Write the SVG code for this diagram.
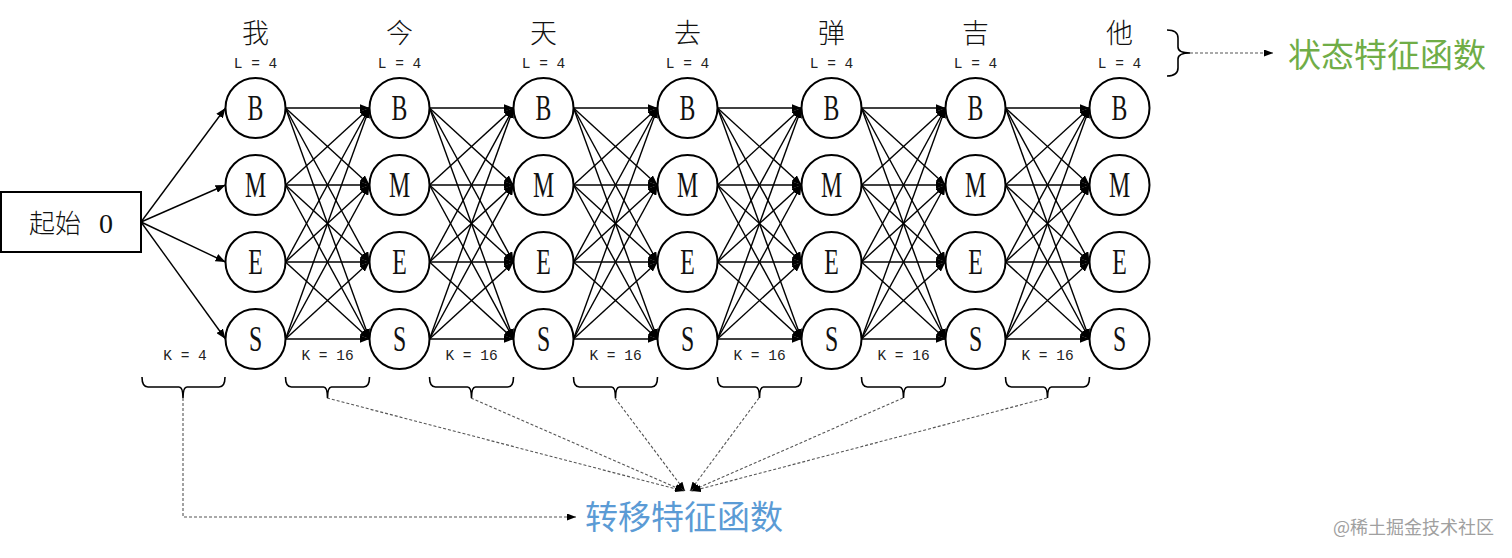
<svg xmlns="http://www.w3.org/2000/svg" xmlns:xlink="http://www.w3.org/1999/xlink" width="1512" height="558" viewBox="0 0 1512 558">
<defs>
<style>
.node{fill:#fff;stroke:#000;stroke-width:2}
.lt{font-family:"Liberation Serif",serif;font-size:35px;fill:#111;text-anchor:middle}
.ch{font-family:"Noto Sans CJK SC",sans-serif;font-size:27px;font-weight:300;fill:#111;text-anchor:middle}
.sm{font-family:"Liberation Mono",monospace;font-size:14.5px;fill:#222;text-anchor:middle}
.e{stroke:#000;stroke-width:1.4;fill:none;marker-end:url(#ah)}
.d{stroke:#555;stroke-width:1.1;fill:none;stroke-dasharray:3 2;marker-end:url(#dh)}
.br{stroke:#000;stroke-width:1.6;fill:none}
.big{font-family:"Noto Sans CJK SC",sans-serif;font-size:33px;font-weight:400}
</style>
<marker id="ah" viewBox="0 0 10 8" refX="10" refY="4" markerWidth="10" markerHeight="8" markerUnits="userSpaceOnUse" orient="auto"><path d="M0,0 L10,4 L0,8 z" fill="#000"/></marker>
<marker id="dh" viewBox="0 0 9 7" refX="9" refY="3.5" markerWidth="9" markerHeight="7" markerUnits="userSpaceOnUse" orient="auto"><path d="M0,0 L9,3.5 L0,7 z" fill="#000"/></marker>
<g id="mesh">
<line x1="0" y1="108" x2="84" y2="108"/><line x1="0" y1="108" x2="84" y2="185"/><line x1="0" y1="108" x2="84" y2="262"/><line x1="0" y1="108" x2="84" y2="339"/>
<line x1="0" y1="185" x2="84" y2="108"/><line x1="0" y1="185" x2="84" y2="185"/><line x1="0" y1="185" x2="84" y2="262"/><line x1="0" y1="185" x2="84" y2="339"/>
<line x1="0" y1="262" x2="84" y2="108"/><line x1="0" y1="262" x2="84" y2="185"/><line x1="0" y1="262" x2="84" y2="262"/><line x1="0" y1="262" x2="84" y2="339"/>
<line x1="0" y1="339" x2="84" y2="108"/><line x1="0" y1="339" x2="84" y2="185"/><line x1="0" y1="339" x2="84" y2="262"/><line x1="0" y1="339" x2="84" y2="339"/>
</g>
</defs>
<rect width="1512" height="558" fill="#fff"/>

<g id="connectors">
<g class="e">
<line x1="141" y1="222" x2="225.5" y2="108"/>
<line x1="141" y1="222" x2="225.5" y2="185"/>
<line x1="141" y1="222" x2="225.5" y2="262"/>
<line x1="141" y1="222" x2="225.5" y2="339"/>
</g>
<g class="e">
<use xlink:href="#mesh" href="#mesh" x="285.5"/>
<use xlink:href="#mesh" href="#mesh" x="429.5"/>
<use xlink:href="#mesh" href="#mesh" x="573.5"/>
<use xlink:href="#mesh" href="#mesh" x="717.5"/>
<use xlink:href="#mesh" href="#mesh" x="861.5"/>
<use xlink:href="#mesh" href="#mesh" x="1005.5"/>
</g>
<g id="dashed">
<path class="d" d="M1190,53 H1273"/>
<path class="d" d="M183,398 V517 H576"/>
<path class="d" d="M327,398 L684,491"/>
<path class="d" d="M471,398 L684,491"/>
<path class="d" d="M615,398 L685,491"/>
<path class="d" d="M759,398 L690,491"/>
<path class="d" d="M903,398 L691,491"/>
<path class="d" d="M1047,398 L692,491"/>
</g>
</g>

<g id="start">
<rect x="1" y="192" width="140" height="60" fill="#fff" stroke="#000" stroke-width="2"/>
<text y="233" font-size="26" fill="#111"><tspan x="29" font-family="Noto Sans CJK SC, sans-serif" font-weight="300">起始</tspan><tspan x="99" font-family="Liberation Serif, serif" font-size="28">0</tspan></text>
</g>

<g id="words">
<text class="ch" x="255.5" y="43">我</text>
<text class="ch" x="399.5" y="43">今</text>
<text class="ch" x="543.5" y="43">天</text>
<text class="ch" x="687.5" y="43">去</text>
<text class="ch" x="831.5" y="43">弹</text>
<text class="ch" x="975.5" y="43">吉</text>
<text class="ch" x="1119.5" y="43">他</text>
<text class="sm" x="255.5" y="68">L = 4</text>
<text class="sm" x="399.5" y="68">L = 4</text>
<text class="sm" x="543.5" y="68">L = 4</text>
<text class="sm" x="687.5" y="68">L = 4</text>
<text class="sm" x="831.5" y="68">L = 4</text>
<text class="sm" x="975.5" y="68">L = 4</text>
<text class="sm" x="1119.5" y="68">L = 4</text>
</g>

<g id="col1">
<circle class="node" cx="255.5" cy="108" r="30"/><text class="lt" transform="translate(255.5,120) scale(0.68,1)">B</text>
<circle class="node" cx="255.5" cy="185" r="30"/><text class="lt" transform="translate(255.5,197) scale(0.68,1)">M</text>
<circle class="node" cx="255.5" cy="262" r="30"/><text class="lt" transform="translate(255.5,274) scale(0.68,1)">E</text>
<circle class="node" cx="255.5" cy="339" r="30"/><text class="lt" transform="translate(255.5,351) scale(0.68,1)">S</text>
</g>
<g id="col2">
<circle class="node" cx="399.5" cy="108" r="30"/><text class="lt" transform="translate(399.5,120) scale(0.68,1)">B</text>
<circle class="node" cx="399.5" cy="185" r="30"/><text class="lt" transform="translate(399.5,197) scale(0.68,1)">M</text>
<circle class="node" cx="399.5" cy="262" r="30"/><text class="lt" transform="translate(399.5,274) scale(0.68,1)">E</text>
<circle class="node" cx="399.5" cy="339" r="30"/><text class="lt" transform="translate(399.5,351) scale(0.68,1)">S</text>
</g>
<g id="col3">
<circle class="node" cx="543.5" cy="108" r="30"/><text class="lt" transform="translate(543.5,120) scale(0.68,1)">B</text>
<circle class="node" cx="543.5" cy="185" r="30"/><text class="lt" transform="translate(543.5,197) scale(0.68,1)">M</text>
<circle class="node" cx="543.5" cy="262" r="30"/><text class="lt" transform="translate(543.5,274) scale(0.68,1)">E</text>
<circle class="node" cx="543.5" cy="339" r="30"/><text class="lt" transform="translate(543.5,351) scale(0.68,1)">S</text>
</g>
<g id="col4">
<circle class="node" cx="687.5" cy="108" r="30"/><text class="lt" transform="translate(687.5,120) scale(0.68,1)">B</text>
<circle class="node" cx="687.5" cy="185" r="30"/><text class="lt" transform="translate(687.5,197) scale(0.68,1)">M</text>
<circle class="node" cx="687.5" cy="262" r="30"/><text class="lt" transform="translate(687.5,274) scale(0.68,1)">E</text>
<circle class="node" cx="687.5" cy="339" r="30"/><text class="lt" transform="translate(687.5,351) scale(0.68,1)">S</text>
</g>
<g id="col5">
<circle class="node" cx="831.5" cy="108" r="30"/><text class="lt" transform="translate(831.5,120) scale(0.68,1)">B</text>
<circle class="node" cx="831.5" cy="185" r="30"/><text class="lt" transform="translate(831.5,197) scale(0.68,1)">M</text>
<circle class="node" cx="831.5" cy="262" r="30"/><text class="lt" transform="translate(831.5,274) scale(0.68,1)">E</text>
<circle class="node" cx="831.5" cy="339" r="30"/><text class="lt" transform="translate(831.5,351) scale(0.68,1)">S</text>
</g>
<g id="col6">
<circle class="node" cx="975.5" cy="108" r="30"/><text class="lt" transform="translate(975.5,120) scale(0.68,1)">B</text>
<circle class="node" cx="975.5" cy="185" r="30"/><text class="lt" transform="translate(975.5,197) scale(0.68,1)">M</text>
<circle class="node" cx="975.5" cy="262" r="30"/><text class="lt" transform="translate(975.5,274) scale(0.68,1)">E</text>
<circle class="node" cx="975.5" cy="339" r="30"/><text class="lt" transform="translate(975.5,351) scale(0.68,1)">S</text>
</g>
<g id="col7">
<circle class="node" cx="1119.5" cy="108" r="30"/><text class="lt" transform="translate(1119.5,120) scale(0.68,1)">B</text>
<circle class="node" cx="1119.5" cy="185" r="30"/><text class="lt" transform="translate(1119.5,197) scale(0.68,1)">M</text>
<circle class="node" cx="1119.5" cy="262" r="30"/><text class="lt" transform="translate(1119.5,274) scale(0.68,1)">E</text>
<circle class="node" cx="1119.5" cy="339" r="30"/><text class="lt" transform="translate(1119.5,351) scale(0.68,1)">S</text>
</g>

<g id="klabels">
<text class="sm" x="185" y="360">K = 4</text>
<text class="sm" x="327.5" y="360">K = 16</text>
<text class="sm" x="471.5" y="360">K = 16</text>
<text class="sm" x="615.5" y="360">K = 16</text>
<text class="sm" x="759.5" y="360">K = 16</text>
<text class="sm" x="903.5" y="360">K = 16</text>
<text class="sm" x="1047.5" y="360">K = 16</text>
</g>

<g id="braces" class="br">
<path d="M142,377 Q142,387 148,387 L179,387 Q183,387 183,398 Q183,387 187,387 L219,387 Q225,387 225,377"/>
<path d="M285.5,377 Q285.5,387 291.5,387 L323.5,387 Q327.5,387 327.5,398 Q327.5,387 331.5,387 L363.5,387 Q369.5,387 369.5,377"/>
<path d="M429.5,377 Q429.5,387 435.5,387 L467.5,387 Q471.5,387 471.5,398 Q471.5,387 475.5,387 L507.5,387 Q513.5,387 513.5,377"/>
<path d="M573.5,377 Q573.5,387 579.5,387 L611.5,387 Q615.5,387 615.5,398 Q615.5,387 619.5,387 L651.5,387 Q657.5,387 657.5,377"/>
<path d="M717.5,377 Q717.5,387 723.5,387 L755.5,387 Q759.5,387 759.5,398 Q759.5,387 763.5,387 L795.5,387 Q801.5,387 801.5,377"/>
<path d="M861.5,377 Q861.5,387 867.5,387 L899.5,387 Q903.5,387 903.5,398 Q903.5,387 907.5,387 L939.5,387 Q945.5,387 945.5,377"/>
<path d="M1005.5,377 Q1005.5,387 1011.5,387 L1043.5,387 Q1047.5,387 1047.5,398 Q1047.5,387 1051.5,387 L1083.5,387 Q1089.5,387 1089.5,377"/>
<path d="M1167,30 Q1178,30 1178,38 L1178,47 Q1178,53 1190,53 Q1178,53 1178,59 L1178,68 Q1178,76 1167,76"/>
</g>

<g id="labels">
<text class="big" x="1288" y="67" fill="#70ad47">状态特征函数</text>
<text class="big" x="585" y="529" fill="#5b9bd5">转移特征函数</text>
<text x="1494" y="534" text-anchor="end" font-family="Noto Sans CJK SC, sans-serif" font-size="18" fill="#a0a0a0">@稀土掘金技术社区</text>
</g>
</svg>
